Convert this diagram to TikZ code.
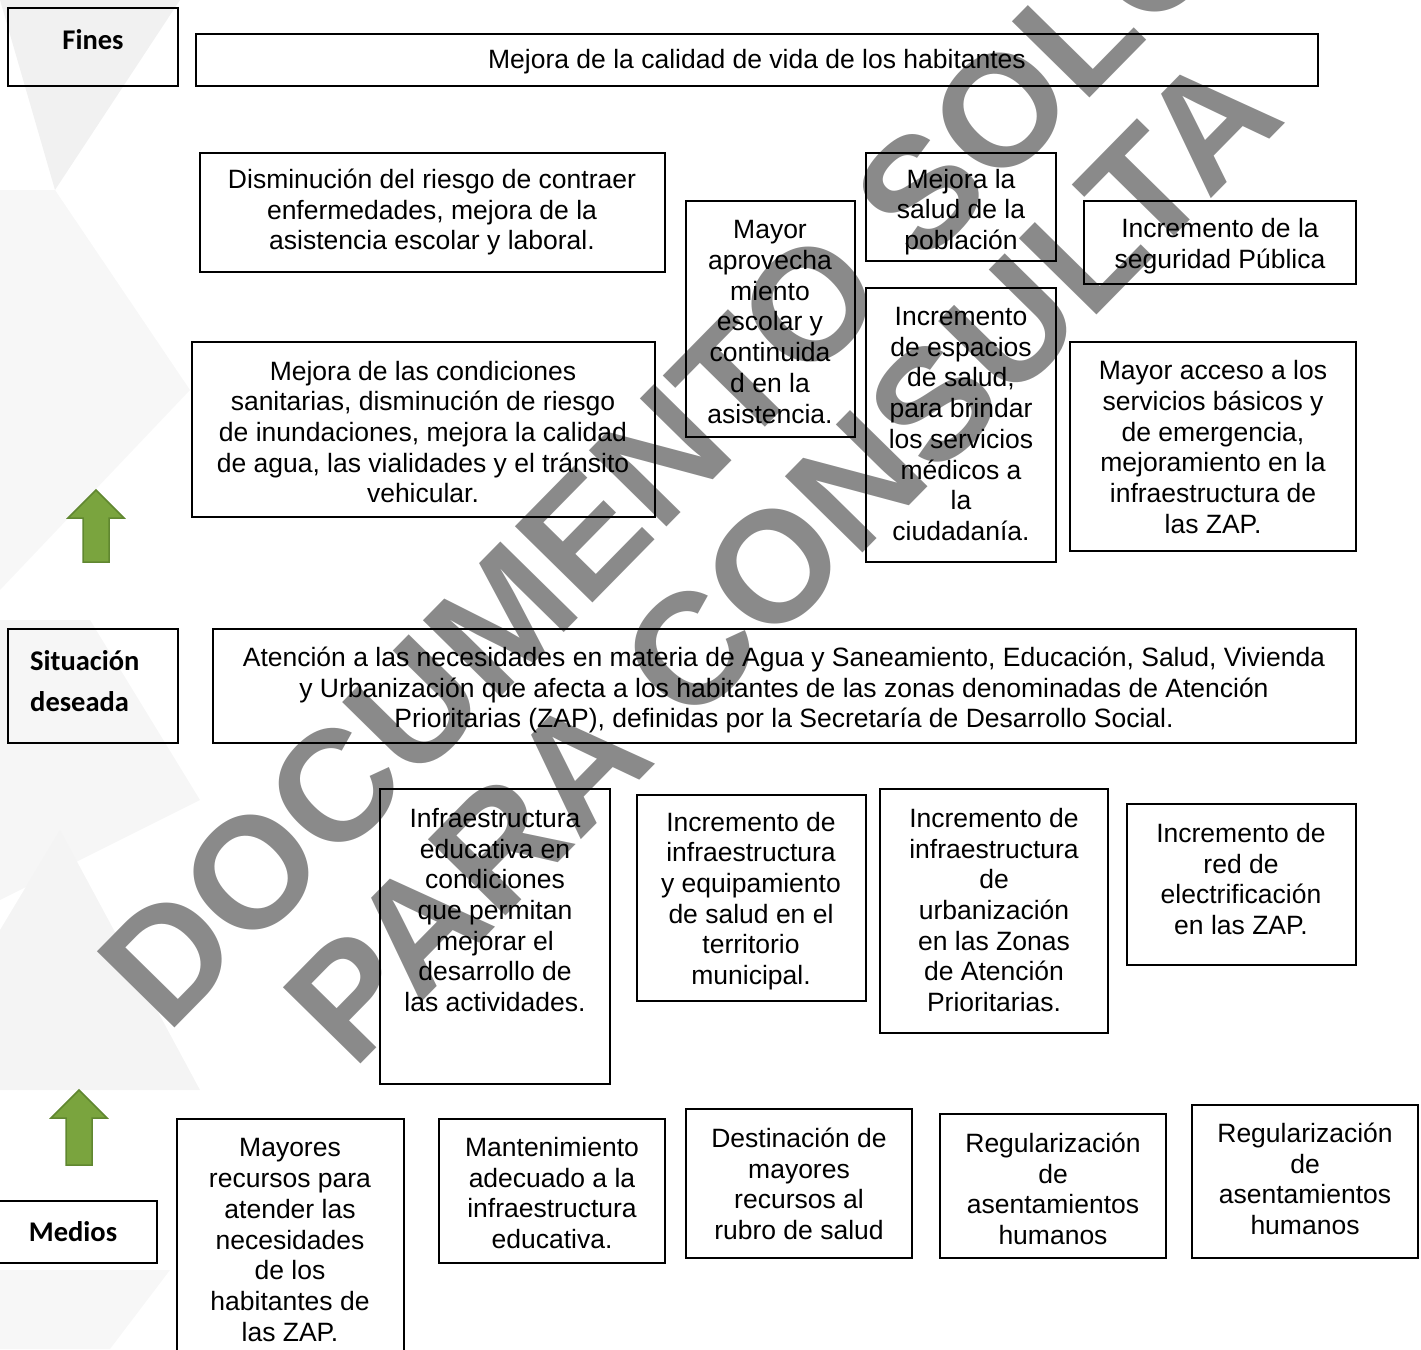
\documentclass[tikz,border=0pt]{standalone}
\usepackage{fontspec}
\setmainfont{Liberation Sans}
\newfontfamily\etiqfont{Carlito}
\definecolor{marcagris}{RGB}{138,138,138}
\definecolor{verde}{RGB}{122,164,62}
\definecolor{verdeborde}{RGB}{96,135,48}
\tikzset{% looks used all over the tree
    caja/.style={draw=black, line width=2.6pt},
    texto/.style={align=center, inner sep=0pt, font=\fontsize{26.5}{30.7}\selectfont},
    etiqueta/.style={align=left, inner sep=0pt, font=\etiqfont\bfseries\fontsize{28.5}{41}\selectfont},
    marca/.style={inner sep=0pt, text=marcagris, rotate=45.5, font=\bfseries\fontsize{158}{158}\selectfont},
    flecha/.style={fill=verde, draw=verdeborde, line width=1.5pt, line join=miter},
    fondo/.style={draw=none}
}
\begin{document}
\begin{tikzpicture}[x=1pt, y=-1pt]
    \useasboundingbox (0,0) rectangle (1421,1349);

    % background pattern
    \fill[fondo, gray!11] (0,0) -- (180,0) -- (55,190) -- cycle;
    \fill[fondo, gray!6] (0,190) -- (55,190) -- (190,390) -- (0,590) -- cycle;
    \fill[fondo, gray!7] (0,620) -- (90,620) -- (200,800) -- (0,900) -- cycle;
    \fill[fondo, gray!9] (60,830) -- (200,1090) -- (0,1090) -- (0,930) -- cycle;
    \fill[fondo, gray!6] (0,1270) -- (170,1270) -- (110,1349) -- (0,1349) -- cycle;

    % watermark
    \node[marca] (marca1) at (663,454) {DOCUMENTO SOLO};
    \node[marca] (marca2) at (782,558) {PARA CONSULTA};

    % row labels
    \draw[caja] (8,8) rectangle (178,86);
    \node[etiqueta] (fines) at (93,40) {Fines};
    \draw[caja] (8,629) rectangle (178,743);
    \node[etiqueta, anchor=west] (situacion) at (30,681) {Situación\\deseada};
    \draw[caja] (-5,1201) rectangle (157,1263);
    \node[etiqueta] (medios) at (73,1232) {Medios};

    % fines
    \draw[caja] (196,34) rectangle (1318,86);
    \node[texto] (calidad) at (757,62) {Mejora de la calidad de vida de los habitantes};
    \draw[caja] (200,153) rectangle (665,272);
    \node[texto] (riesgo) at (432,212) {Disminución del riesgo de contraer\\enfermedades, mejora de la\\asistencia escolar y laboral.};
    \draw[caja] (686,201) rectangle (855,437);
    \node[texto] (aprovecha) at (770,322) {Mayor\\aprovecha\\miento\\escolar y\\continuida\\d en la\\asistencia.};
    \draw[caja] (866,153) rectangle (1056,261);
    \node[texto] (salud) at (961,212) {Mejora la\\salud de la\\población};
    \draw[caja] (1084,201) rectangle (1356,284);
    \node[texto] (seguridad) at (1220,246) {Incremento de la\\seguridad Pública};
    \draw[caja] (192,342) rectangle (655,517);
    \node[texto] (sanitarias) at (423,432) {Mejora de las condiciones\\sanitarias, disminución de riesgo\\de inundaciones, mejora la calidad\\de agua, las vialidades y el tránsito\\vehicular.};
    \draw[caja] (866,288) rectangle (1056,562);
    \node[texto] (espacios) at (961,424) {Incremento\\de espacios\\de salud,\\para brindar\\los servicios\\médicos a\\la\\ciudadanía.};
    \draw[caja] (1070,342) rectangle (1356,551);
    \node[texto] (acceso) at (1213,447) {Mayor acceso a los\\servicios básicos y\\de emergencia,\\mejoramiento en la\\infraestructura de\\las ZAP.};

    % arrow up to fines
    \draw[flecha] (96,490) -- (124,518) -- (109,518) -- (109,562) -- (83,562) -- (83,518) -- (68,518) -- cycle;

    % situacion deseada
    \draw[caja] (213,629) rectangle (1356,743);
    \node[texto] (atencion) at (784,690) {Atención a las necesidades en materia de Agua y Saneamiento, Educación, Salud, Vivienda\\y Urbanización que afecta a los habitantes de las zonas denominadas de Atención\\Prioritarias (ZAP), definidas por la Secretaría de Desarrollo Social.};

    % componentes
    \draw[caja] (380,789) rectangle (610,1084);
    \node[texto] (educativa) at (495,910) {Infraestructura\\educativa en\\condiciones\\que permitan\\mejorar el\\desarrollo de\\las actividades.};
    \draw[caja] (637,795) rectangle (866,1001);
    \node[texto] (equipamiento) at (751,901) {Incremento de\\infraestructura\\y equipamiento\\de salud en el\\territorio\\municipal.};
    \draw[caja] (880,789) rectangle (1108,1033);
    \node[texto] (urbanizacion) at (994,910) {Incremento de\\infraestructura\\de\\urbanización\\en las Zonas\\de Atención\\Prioritarias.};
    \draw[caja] (1127,804) rectangle (1356,965);
    \node[texto] (electrificacion) at (1241,879) {Incremento de\\red de\\electrificación\\en las ZAP.};

    % arrow up from medios
    \draw[flecha] (79,1090) -- (107,1118) -- (92,1118) -- (92,1165) -- (66,1165) -- (66,1118) -- (51,1118) -- cycle;

    % medios
    \draw[caja] (177,1119) rectangle (404,1360);
    \node[texto] (recursos) at (290,1240) {Mayores\\recursos para\\atender las\\necesidades\\de los\\habitantes de\\las ZAP.};
    \draw[caja] (439,1119) rectangle (665,1263);
    \node[texto] (mantenimiento) at (552,1193) {Mantenimiento\\adecuado a la\\infraestructura\\educativa.};
    \draw[caja] (686,1109) rectangle (912,1258);
    \node[texto] (destinacion) at (799,1184) {Destinación de\\mayores\\recursos al\\rubro de salud};
    \draw[caja] (940,1114) rectangle (1166,1258);
    \node[texto] (regular1) at (1053,1189) {Regularización\\de\\asentamientos\\humanos};
    \draw[caja] (1192,1105) rectangle (1418,1258);
    \node[texto] (regular2) at (1305,1179) {Regularización\\de\\asentamientos\\humanos};
\end{tikzpicture}
\end{document}
